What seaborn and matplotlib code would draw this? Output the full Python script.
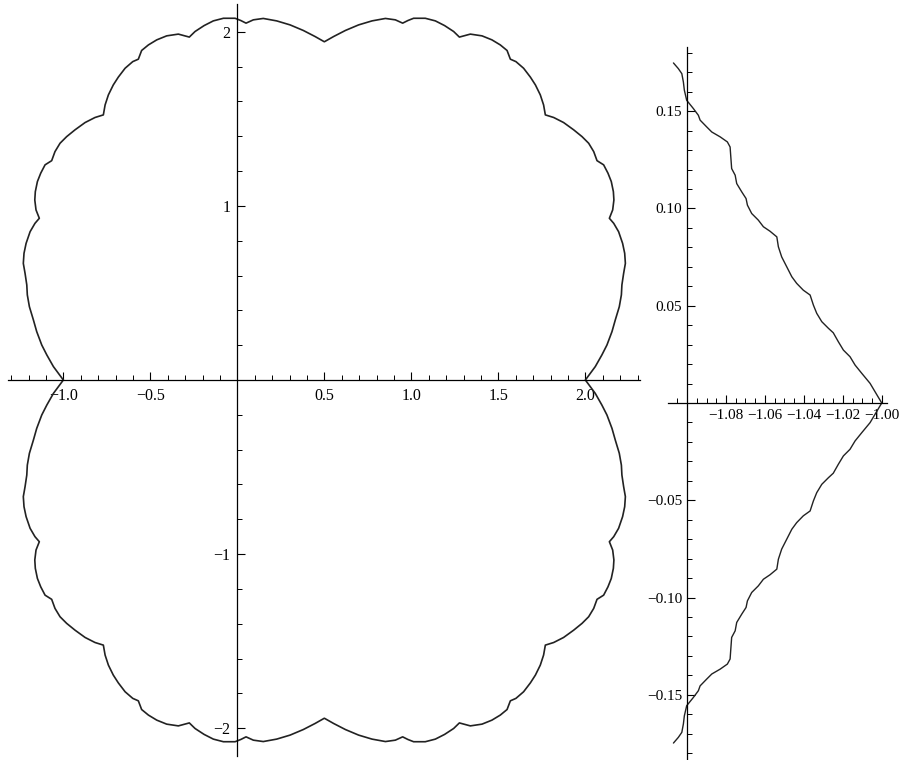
import numpy as np
import matplotlib
matplotlib.use("Agg")
import matplotlib.pyplot as plt
import seaborn as sns
from matplotlib.ticker import MultipleLocator

# upper-left quarter of the closed curve
# (the curve is mirror symmetric about y = 0 and about x = 0.5)
quarter_x = [-1.000, -1.057, -1.095, -1.124, -1.153, -1.172, -1.195, -1.207,
             -1.210, -1.220, -1.230, -1.226, -1.214, -1.191, -1.163, -1.138,
             -1.157, -1.164, -1.161, -1.149, -1.130, -1.105, -1.067, -1.048,
             -1.019, -0.981, -0.933, -0.875, -0.818, -0.770, -0.760, -0.741,
             -0.713, -0.684, -0.645, -0.601, -0.569, -0.550, -0.511, -0.463,
             -0.406, -0.339, -0.276, -0.243, -0.191, -0.138, -0.080, -0.013,
             0.020, 0.050, 0.092, 0.149, 0.226, 0.303, 0.379, 0.447, 0.500]
quarter_y = [0.000, 0.077, 0.144, 0.201, 0.278, 0.345, 0.421, 0.489,
             0.546, 0.613, 0.670, 0.728, 0.785, 0.852, 0.900, 0.929,
             0.977, 1.034, 1.082, 1.140, 1.188, 1.236, 1.260, 1.312,
             1.360, 1.398, 1.437, 1.479, 1.508, 1.523, 1.580, 1.638,
             1.695, 1.740, 1.791, 1.829, 1.843, 1.893, 1.925, 1.954,
             1.977, 1.987, 1.970, 2.002, 2.036, 2.063, 2.078, 2.078,
             2.065, 2.050, 2.069, 2.077, 2.063, 2.040, 2.008, 1.973, 1.943]

# close-up near (-1, 0), upper branch (lower branch is its mirror image)
zoom_x = [-1.1070, -1.1045, -1.1027, -1.1019, -1.1014, -1.1002, -1.0968, -1.0942,
          -1.0933, -1.0899, -1.0873, -1.0830, -1.0793, -1.0779, -1.0776, -1.0771,
          -1.0753, -1.0745, -1.0719, -1.0697, -1.0690, -1.0668, -1.0634, -1.0608,
          -1.0574, -1.0539, -1.0531, -1.0514, -1.0488, -1.0462, -1.0437, -1.0403,
          -1.0368, -1.0351, -1.0334, -1.0308, -1.0274, -1.0249, -1.0223, -1.0197,
          -1.0163, -1.0137, -1.0103, -1.0060, -1.0000]
zoom_y = [0.1748, 0.1719, 0.1693, 0.1650, 0.1608, 0.1556, 0.1514, 0.1479,
          0.1454, 0.1419, 0.1393, 0.1368, 0.1342, 0.1316, 0.1274, 0.1205,
          0.1171, 0.1128, 0.1085, 0.1051, 0.1017, 0.0974, 0.0940, 0.0906,
          0.0883, 0.0854, 0.0803, 0.0751, 0.0700, 0.0649, 0.0615, 0.0580,
          0.0555, 0.0503, 0.0461, 0.0418, 0.0384, 0.0361, 0.0315, 0.0272,
          0.0238, 0.0195, 0.0153, 0.0101, 0.0000]

main_xticks = [-1.0, -0.5, 0.5, 1.0, 1.5, 2.0]
main_xlabels = ["\u22121.0", "\u22120.5", "0.5", "1.0", "1.5", "2.0"]
main_yticks = [-2, -1, 1, 2]
main_ylabels = ["\u22122", "\u22121", "1", "2"]

zoom_xticks = [-1.08, -1.06, -1.04, -1.02, -1.00]
zoom_xlabels = ["\u22121.08", "\u22121.06", "\u22121.04", "\u22121.02", "\u22121.00"]
zoom_yticks = [-0.15, -0.10, -0.05, 0.05, 0.10, 0.15]
zoom_ylabels = ["\u22120.15", "\u22120.10", "\u22120.05", "0.05", "0.10", "0.15"]

# assemble the closed curve from the quarter
qx = np.array(quarter_x)
qy = np.array(quarter_y)
upper_x = np.concatenate([qx, 1.0 - qx[::-1][1:]])
upper_y = np.concatenate([qy, qy[::-1][1:]])
curve_x = np.concatenate([upper_x, upper_x[::-1][1:]])
curve_y = np.concatenate([upper_y, -upper_y[::-1][1:]])

zx = np.array(zoom_x)
zy = np.array(zoom_y)
branch_x = np.concatenate([zx, zx[::-1][1:]])
branch_y = np.concatenate([zy, -zy[::-1][1:]])

sns.set_style("ticks")
plt.rcParams["font.family"] = ["Liberation Serif", "DejaVu Serif"]

fig = plt.figure(figsize=(9.03, 7.6), dpi=100)
W, H = 903, 760

line_color = "#222222"


def style_axes(ax, y0_pos, xpad, ypad, fs):
    for side in ["top", "right"]:
        ax.spines[side].set_visible(False)
    ax.spines["left"].set_position(("data", y0_pos))
    ax.spines["bottom"].set_position(("data", 0))
    for side in ["left", "bottom"]:
        ax.spines[side].set_linewidth(0.9)
        ax.spines[side].set_color("black")
    ax.tick_params(which="both", bottom=True, left=True, top=False, right=False)
    ax.tick_params(which="major", direction="in", length=6, width=0.8,
                   labelsize=fs, colors="black")
    ax.tick_params(which="minor", direction="in", length=3.5, width=0.7,
                   colors="black")
    ax.tick_params(axis="x", which="major", pad=xpad)
    ax.tick_params(axis="y", which="major", pad=ypad)
    ax.set_xlabel("")
    ax.set_ylabel("")


# main panel
ax = fig.add_axes([8 / W, 4 / H, 632 / W, 752 / H])
sns.lineplot(x=curve_x, y=curve_y, sort=False, estimator=None, ax=ax,
             color=line_color, linewidth=1.2)
ax.set_xlim(-1.318, 2.314)
ax.set_ylim(-2.16, 2.16)
ax.set_xticks(main_xticks, main_xlabels)
ax.set_yticks(main_yticks, main_ylabels)
ax.xaxis.set_minor_locator(MultipleLocator(0.1))
ax.yaxis.set_minor_locator(MultipleLocator(0.2))
style_axes(ax, 0, 6, 5, 11.5)

# close-up panel
ax2 = fig.add_axes([668 / W, 1 / H, 219 / W, 712 / H])
sns.lineplot(x=branch_x, y=branch_y, sort=False, estimator=None, ax=ax2,
             color=line_color, linewidth=1.0)
ax2.set_xlim(-1.1098, -0.9973)
ax2.set_ylim(-0.183, 0.183)
ax2.set_xticks(zoom_xticks, zoom_xlabels)
ax2.set_yticks(zoom_yticks, zoom_ylabels)
ax2.xaxis.set_minor_locator(MultipleLocator(0.005))
ax2.yaxis.set_minor_locator(MultipleLocator(0.01))
style_axes(ax2, -1.1, 4.5, 3.5, 11)

fig.savefig("out.png", dpi=100)
